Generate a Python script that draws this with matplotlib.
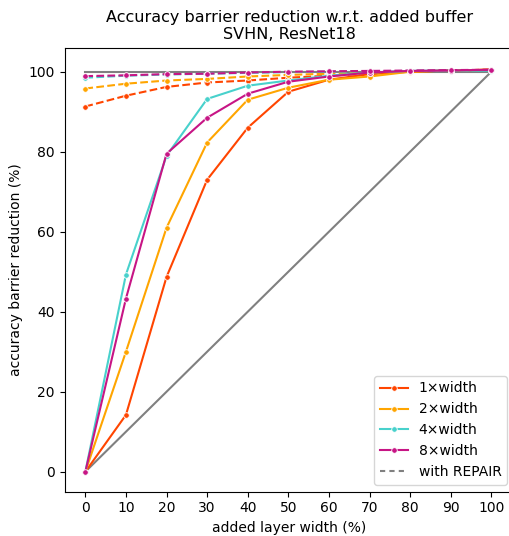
import matplotlib.pyplot as plt
from matplotlib.lines import Line2D

x = [0, 10, 20, 30, 40, 50, 60, 70, 80, 90, 100]

labels = ['1×width', '2×width', '4×width', '8×width']
colors = ['orangered', 'orange', 'mediumturquoise', 'mediumvioletred']

# plain buffer
plain = [
    [0, 14.2, 48.7, 73.0, 86.0, 95.0, 98.0, 99.4, 100.0, 100.3, 100.5],
    [0, 30.0, 61.0, 82.3, 93.0, 96.0, 98.0, 98.8, 100.0, 100.3, 100.5],
    [0, 49.3, 79.0, 93.2, 96.5, 97.8, 99.0, 99.8, 100.2, 100.3, 100.3],
    [0, 43.3, 79.5, 88.5, 94.5, 97.5, 98.8, 99.8, 100.2, 100.3, 100.5],
]
# with REPAIR
repair = [
    [91.3, 94.0, 96.2, 97.3, 97.8, 98.5, 99.0, 99.5, 100.0, 100.3, 100.5],
    [95.8, 97.0, 97.8, 98.2, 98.8, 99.2, 99.5, 99.8, 100.1, 100.3, 100.5],
    [98.5, 99.0, 99.3, 99.5, 99.7, 99.9, 100.0, 100.1, 100.2, 100.3, 100.4],
    [98.9, 99.1, 99.4, 99.5, 99.8, 100.0, 100.1, 100.2, 100.3, 100.4, 100.5],
]

fig = plt.figure(figsize=(5.09, 5.36), dpi=100)
# axes run past the right edge, as in the reference crop
ax = fig.add_axes([0.127, 0.0826, 0.883, 0.8284])
ax.spines['right'].set_visible(False)

ax.plot([0, 100], [0, 100], color='grey', lw=1.5, zorder=1)
ax.plot([0, 100], [100, 100], color='grey', lw=1.5, zorder=1)

for i in range(4):
    ax.plot(x, plain[i], color=colors[i], lw=1.5, marker='o', ms=4,
            markeredgecolor='white', markeredgewidth=0.6, zorder=2)
    ax.plot(x, repair[i], color=colors[i], lw=1.5, ls='--', marker='o', ms=4,
            markeredgecolor='white', markeredgewidth=0.6, zorder=2)

handles = [Line2D([], [], color=c, lw=1.5, marker='o', ms=4,
                  markeredgecolor='white', markeredgewidth=0.6) for c in colors]
handles.append(Line2D([], [], color='grey', lw=1.5, ls=(0, (2.5, 2))))
ax.legend(handles, labels + ['with REPAIR'], loc='lower right')

ax.set_xlim(-5.1, 105.6)
ax.set_ylim(-5, 106)
ax.set_xticks(x)
ax.set_xlabel('added layer width (%)')
ax.set_ylabel('accuracy barrier reduction (%)')
ax.set_title('Accuracy barrier reduction w.r.t. added buffer\nSVHN, ResNet18',
             fontsize=11.5)

plt.savefig('out.png')
